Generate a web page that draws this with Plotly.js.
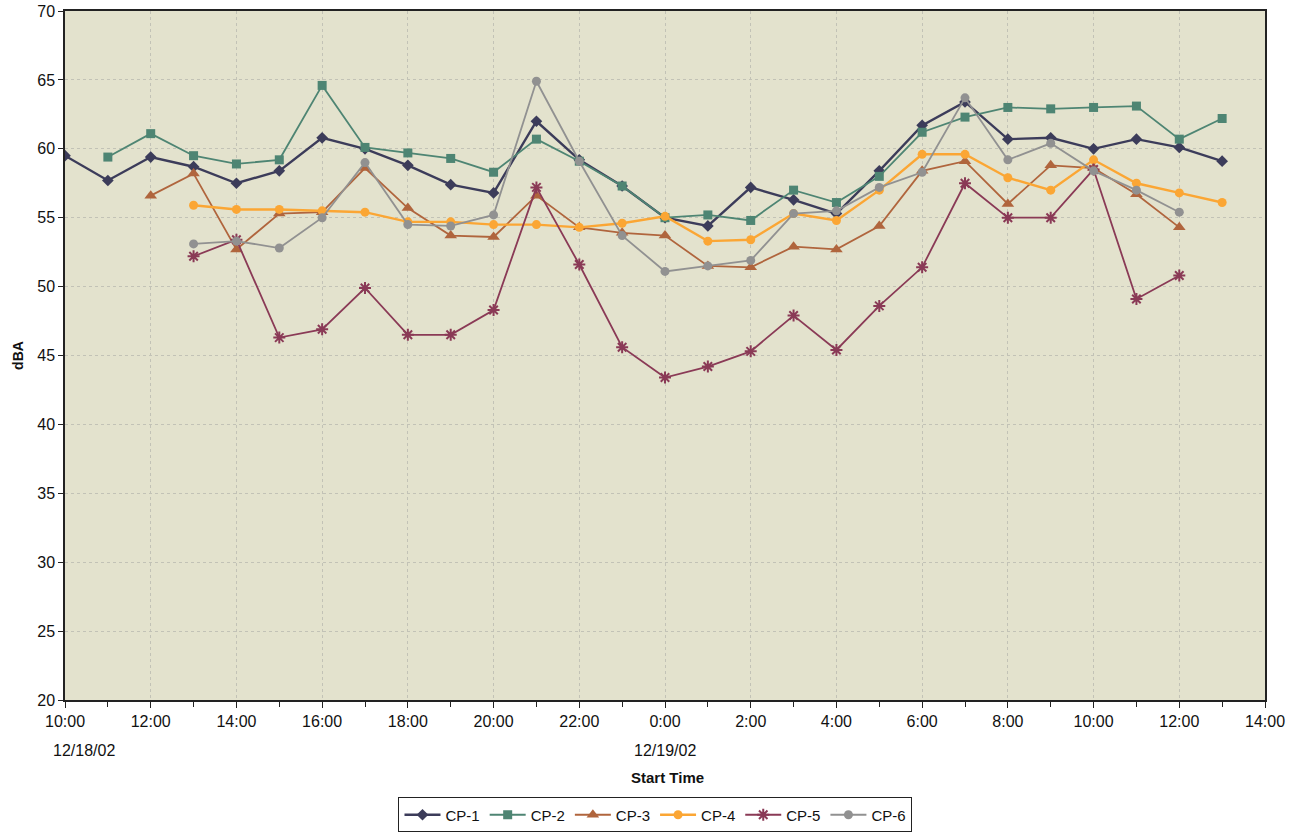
<!DOCTYPE html>
<html>
<head>
<meta charset="utf-8">
<script src="https://cdn.plot.ly/plotly-3.0.1.min.js"></script>
<style>
  html, body { margin: 0; padding: 0; background: #ffffff; }
  #chart { width: 1298px; height: 835px; }
</style>
</head>
<body>
<div id="chart"></div>
<script>
// Hourly start times, 12/18/02 10:00 through 12/19/02 13:00
const times = [
  '2002-12-18 10:00', '2002-12-18 11:00', '2002-12-18 12:00', '2002-12-18 13:00',
  '2002-12-18 14:00', '2002-12-18 15:00', '2002-12-18 16:00', '2002-12-18 17:00',
  '2002-12-18 18:00', '2002-12-18 19:00', '2002-12-18 20:00', '2002-12-18 21:00',
  '2002-12-18 22:00', '2002-12-18 23:00', '2002-12-19 00:00', '2002-12-19 01:00',
  '2002-12-19 02:00', '2002-12-19 03:00', '2002-12-19 04:00', '2002-12-19 05:00',
  '2002-12-19 06:00', '2002-12-19 07:00', '2002-12-19 08:00', '2002-12-19 09:00',
  '2002-12-19 10:00', '2002-12-19 11:00', '2002-12-19 12:00', '2002-12-19 13:00'
];

// Hourly sound levels (dBA) at each monitoring point
const cp1 = [59.5, 57.7, 59.4, 58.7, 57.5, 58.4, 60.8, 60.0, 58.8, 57.4, 56.8, 62.0,
             59.2, 57.3, 55.0, 54.4, 57.2, 56.3, 55.3, 58.4, 61.7, 63.4, 60.7, 60.8,
             60.0, 60.7, 60.1, 59.1];
const cp2 = [null, 59.4, 61.1, 59.5, 58.9, 59.2, 64.6, 60.1, 59.7, 59.3, 58.3, 60.7,
             59.1, 57.3, 55.0, 55.2, 54.8, 57.0, 56.1, 58.0, 61.2, 62.3, 63.0, 62.9,
             63.0, 63.1, 60.7, 62.2];
const cp3 = [null, null, 56.6, 58.2, 52.7, 55.3, 55.4, 58.6, 55.7, 53.7, 53.6, 56.6,
             54.3, 53.9, 53.7, 51.5, 51.4, 52.9, 52.7, 54.4, 58.4, 59.1, 56.0, 58.8,
             58.6, 56.7, 54.3, null];
const cp4 = [null, null, null, 55.9, 55.6, 55.6, 55.5, 55.4, 54.7, 54.7, 54.5, 54.5,
             54.3, 54.6, 55.1, 53.3, 53.4, 55.3, 54.8, 57.0, 59.6, 59.6, 57.9, 57.0,
             59.2, 57.5, 56.8, 56.1];
const cp5 = [null, null, null, 52.2, 53.4, 46.3, 46.9, 49.9, 46.5, 46.5, 48.3, 57.2,
             51.6, 45.6, 43.4, 44.2, 45.3, 47.9, 45.4, 48.6, 51.4, 57.5, 55.0, 55.0,
             58.5, 49.1, 50.8, null];
const cp6 = [null, null, null, 53.1, 53.3, 52.8, 55.0, 59.0, 54.5, 54.4, 55.2, 64.9,
             59.1, 53.7, 51.1, 51.5, 51.9, 55.3, 55.5, 57.2, 58.3, 63.7, 59.2, 60.4,
             58.4, 57.0, 55.4, null];

const seriesNames = ['CP-1', 'CP-2', 'CP-3', 'CP-4', 'CP-5', 'CP-6'];
const seriesData = [cp1, cp2, cp3, cp4, cp5, cp6];
const colors = ['#3c3c5a', '#4e8573', '#b0653d', '#fba634', '#8a3a56', '#919191'];
const symbols = ['diamond', 'square', 'triangle-up', 'circle', 'asterisk-open', 'circle'];
const sizes = [9, 9, 11, 9, 10, 9];

const traces = seriesData.map((vals, i) => ({
  type: 'scatter',
  mode: 'lines+markers',
  name: seriesNames[i],
  x: times,
  y: vals,
  line: { color: colors[i], width: i === 0 || i === 3 ? 2.4 : 1.8 },
  marker: {
    symbol: symbols[i],
    size: sizes[i],
    color: colors[i],
    line: symbols[i] === 'asterisk-open' ? { color: colors[i], width: 2 } : { width: 0 }
  }
}));

const font = { family: 'Liberation Sans, Arial, sans-serif', color: '#111111' };
const f = (size) => Object.assign({ size: size }, font);

const layout = {
  width: 1298,
  height: 835,
  paper_bgcolor: '#ffffff',
  plot_bgcolor: '#e3e2cd',
  margin: { l: 65, r: 33, t: 11, b: 135, autoexpand: false },
  font: f(16),
  showlegend: true,
  legend: {
    orientation: 'h',
    x: 0.505, xref: 'container', xanchor: 'center',
    y: 0.003, yref: 'container', yanchor: 'bottom',
    bordercolor: '#222222', borderwidth: 1,
    bgcolor: '#ffffff',
    font: f(15),
    itemwidth: 36,
    tracegroupgap: 0
  },
  xaxis: {
    type: 'date',
    range: ['2002-12-18 10:00', '2002-12-19 14:00'],
    dtick: 2 * 3600 * 1000,
    tick0: '2002-12-18 10:00',
    tickformat: '%-H:%M',
    ticks: 'outside', ticklen: 6, tickcolor: '#222222',
    minor: { dtick: 3600 * 1000, ticks: 'outside', ticklen: 5, tickcolor: '#222222', showgrid: false },
    showgrid: true, gridcolor: '#c2c2b6', griddash: 'dot', gridwidth: 1,
    showline: true, linecolor: '#222222', linewidth: 1.5, mirror: true,
    zeroline: false,
    automargin: false,
    tickfont: f(16)
  },
  yaxis: {
    range: [20, 70],
    dtick: 5,
    ticks: 'outside', ticklen: 5, tickcolor: '#222222',
    showgrid: true, gridcolor: '#c2c2b6', griddash: 'dot', gridwidth: 1,
    showline: true, linecolor: '#222222', linewidth: 1.5, mirror: true,
    zeroline: false,
    automargin: false,
    tickfont: f(16),
    title: { text: '<b>dBA</b>', font: f(14), standoff: 10 }
  },
  annotations: [
    {
      text: '12/18/02', xref: 'x', yref: 'paper',
      x: '2002-12-18 10:00', y: -0.0726, xanchor: 'left', yanchor: 'middle',
      xshift: -14, showarrow: false, font: f(16)
    },
    {
      text: '12/19/02', xref: 'x', yref: 'paper',
      x: '2002-12-19 00:00', y: -0.0726, xanchor: 'center', yanchor: 'middle',
      showarrow: false, font: f(16)
    },
    {
      text: '<b>Start Time</b>', xref: 'paper', yref: 'paper',
      x: 0.502, y: -0.112, xanchor: 'center', yanchor: 'middle',
      showarrow: false, font: f(15)
    }
  ]
};

Plotly.newPlot('chart', traces, layout, { displayModeBar: false, responsive: false });
</script>
</body>
</html>
